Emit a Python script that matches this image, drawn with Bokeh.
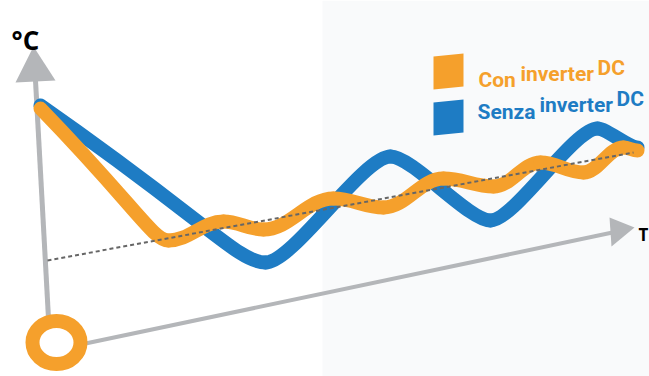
from bokeh.plotting import figure
from bokeh.models import Range1d
from bokeh.core.properties import value
from bokeh.embed import file_html
from bokeh.resources import INLINE

# ---- series (drawing-space coordinates: x to the right, y downward) ----
# turning points of each temperature curve; the first point is the start value
con_x = [40, 168, 223, 263, 333, 383, 443, 493, 540, 583, 623, 637]
con_y = [108, 240, 221, 229, 198, 207, 178, 186, 162, 172, 147, 150]
senza_x = [40, 265, 390, 490, 597, 637]
senza_y = [105, 262, 156, 220, 128, 147]

# set-point trend (dashed)
trend_x = [47, 633]
trend_y = [260, 152]

series_labels = ["Con inverter DC", "Senza inverter DC"]
axis_labels = ["°C", "T"]

ORANGE = "#f5a02c"
BLUE = "#1e7cc4"
AXIS_GREY = "#b4b6b9"

W, H = 649, 376
p = figure(width=W, height=H, x_range=Range1d(0, W), y_range=Range1d(0, H),
           output_backend="svg", toolbar_location=None, min_border=0)
p.axis.visible = False
p.grid.visible = False
p.outline_line_color = None
p.background_fill_color = "white"
p.border_fill_color = "white"


def fy(ys):
    """Convert downward drawing coordinates to the upward y range."""
    return [H - v for v in ys]


# faint tinted panel on the right
p.quad(left=[322], right=[W], top=[H], bottom=[0], fill_color="#f9fafb",
       line_color=None)

# axes
p.line([48, 35], fy([318, 80]), line_color=AXIS_GREY, line_width=5)
p.patch([33, 15, 55], fy([46, 82, 80]), fill_color=AXIS_GREY, line_color=None)
p.line([85, 612], fy([343, 232]), line_color=AXIS_GREY, line_width=4)
p.patch([634, 609, 611], fy([227, 217, 246]), fill_color=AXIS_GREY, line_color=None)


def curve(xs, ys, k, color):
    """Smooth path through turning points: straight drop first, then waves."""
    ys = fy(ys)
    x0, y0, x1, y1, cx0, cy0, cx1, cy1 = ([] for _ in range(8))
    n = len(xs)
    for i in range(n - 1):
        ax, ay, bx, by = xs[i], ys[i], xs[i + 1], ys[i + 1]
        dx = bx - ax
        if i == 0:
            c0 = (ax + 0.75 * (bx - ax), ay + 0.75 * (by - ay))
            c1 = (bx - 0.12 * dx, by)
        elif i == n - 2 and n > 2 and not ((by - ay) * (ys[i] - ys[i - 1]) < 0):
            c0 = (ax + k * dx, ay)
            c1 = (bx - 0.3 * (bx - ax), by - 0.3 * (by - ay))
        else:
            c0 = (ax + k * dx, ay)
            c1 = (bx - k * dx, by)
        x0.append(ax); y0.append(ay); x1.append(bx); y1.append(by)
        cx0.append(c0[0]); cy0.append(c0[1]); cx1.append(c1[0]); cy1.append(c1[1])
    p.bezier(x0=x0, y0=y0, x1=x1, y1=y1, cx0=cx0, cy0=cy0, cx1=cx1, cy1=cy1,
             line_color=color, line_width=14, line_cap="round")


curve(senza_x, senza_y, 0.22, BLUE)
curve(con_x, con_y, 0.38, ORANGE)

p.line(trend_x, fy(trend_y), line_color="#666666", line_width=2, line_dash="4 3")

# origin ring
p.ellipse(x=[56], y=fy([342]), width=[48], height=[43], width_units="screen",
          height_units="screen", fill_color=None, line_color=ORANGE, line_width=14)

# axis labels
p.text(x=[11], y=fy([39]), text=[axis_labels[0]], text_font=value("Open Sans"),
       text_font_style="bold", text_font_size="26px", text_color="black",
       text_baseline="alphabetic")
p.text(x=[638], y=fy([234]), text=[axis_labels[1]], text_font=value("Open Sans"),
       text_font_style="bold", text_font_size="17px", text_color="black",
       text_baseline="alphabetic")

# legend swatches (slightly skewed, following the perspective)
p.patches(xs=[[433, 463, 463, 433], [433, 463, 463, 433]],
          ys=[fy([56, 53, 86, 89]), fy([102, 99, 132, 135])],
          fill_color=[ORANGE, BLUE], line_color=None)

# legend texts rise to the right: each word sits on the sloped baseline,
# taken at the middle of the word
word_starts = [[478, 520, 597], [477, 539, 616]]
word_mids = [[496, 556, 611], [505, 575, 630]]
baseline_start = [81, 115]
slope = [0.10, 0.11]
for label, starts, mids, b0, s, col in zip(series_labels, word_starts, word_mids,
                                           baseline_start, slope, [ORANGE, BLUE]):
    words = label.split(" ")
    ys = [b0 - s * (m - starts[0]) for m in mids]
    p.text(x=starts, y=fy(ys), text=words, text_font=value("Roboto"),
           text_font_style="bold", text_font_size="21px", text_color=col,
           text_baseline="alphabetic")

open("out.html", "w").write(file_html(p, INLINE))
